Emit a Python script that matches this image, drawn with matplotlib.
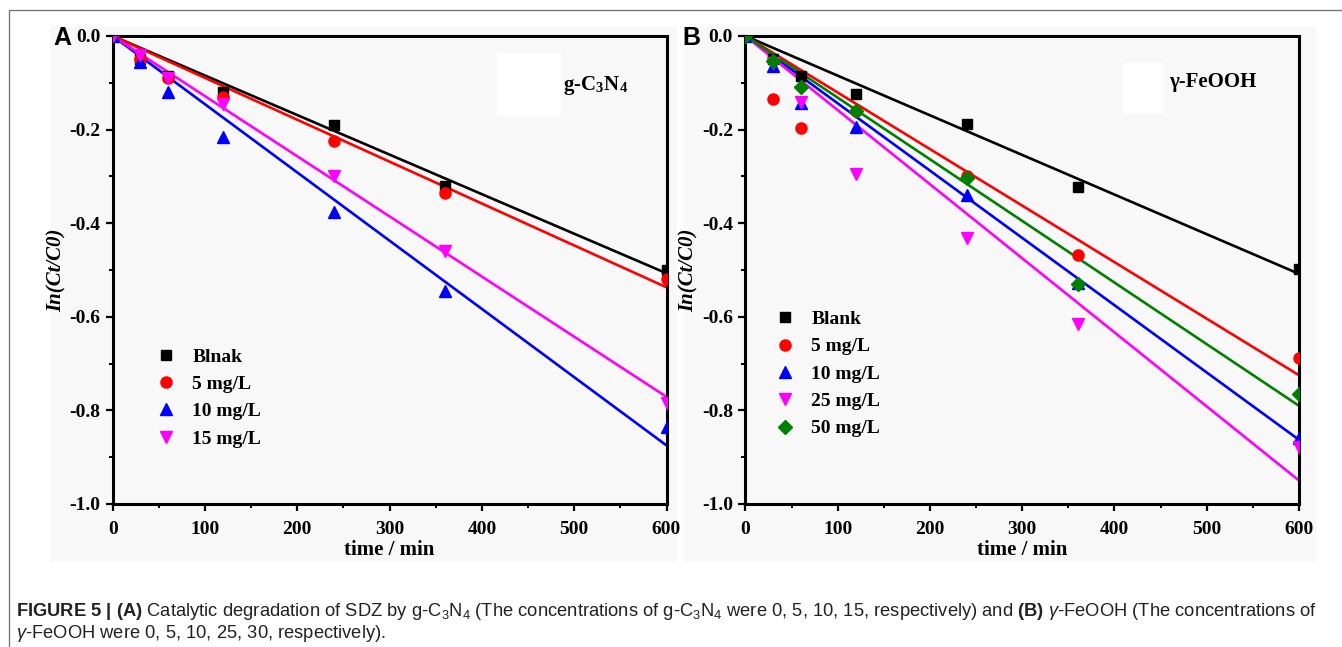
import matplotlib
matplotlib.use("Agg")
import matplotlib.pyplot as plt
import numpy as np
from matplotlib.patches import Rectangle
from matplotlib.ticker import MultipleLocator, FormatStrFormatter

plt.rcParams["mathtext.fontset"] = "custom"
plt.rcParams["mathtext.rm"] = "Liberation Sans"
plt.rcParams["mathtext.bf"] = "Liberation Sans:bold"
plt.rcParams["mathtext.it"] = "Liberation Sans:italic"

# ---- data -------------------------------------------------------------
time_min = [0, 30, 60, 120, 240, 360, 600]

# Panel A: g-C3N4
labels_a = ["Blnak", "5 mg/L", "10 mg/L", "15 mg/L"]
a_blank = [0, -0.050, -0.085, -0.120, -0.190, -0.320, -0.500]
a_5 = [0, -0.050, -0.090, -0.130, -0.225, -0.335, -0.520]
a_10 = [0, -0.055, -0.120, -0.215, -0.375, -0.545, -0.835]
a_15 = [0, -0.040, -0.090, -0.145, -0.300, -0.460, -0.785]
k_a = [0.000845, 0.000895, 0.001458, 0.001285]   # fitted rate constants (min^-1)

# Panel B: gamma-FeOOH
labels_b = ["Blank", "5 mg/L", "10 mg/L", "25 mg/L", "50 mg/L"]
b_blank = [0, -0.050, -0.085, -0.124, -0.189, -0.323, -0.498]
b_5 = [0, -0.135, -0.196, -0.160, -0.300, -0.467, -0.687]
b_10 = [0, -0.065, -0.143, -0.195, -0.340, -0.527, -0.859]
b_25 = [0, -0.057, -0.141, -0.295, -0.431, -0.616, -0.878]
b_50 = [0, -0.053, -0.108, -0.160, -0.303, -0.529, -0.766]
k_b = [0.000847, 0.001208, 0.001438, 0.001583, 0.001317]

colors_a = ["black", "#ff0000", "#0000ff", "#ff00ff"]
markers_a = ["s", "o", "^", "v"]
colors_b = ["black", "#ff0000", "#0000ff", "#ff00ff", "#008000"]
markers_b = ["s", "o", "^", "v", "D"]
msizes_b = [7, 8, 8, 8, 7]

SERIF = "Liberation Serif"

fig = plt.figure(figsize=(13.42, 6.47), dpi=100)
fig.patch.set_facecolor("white")

# thin frame around the figure block
fig.add_artist(Rectangle((9 / 1342, -0.1), 1.2, 1 - 10 / 647 + 0.1,
                         transform=fig.transFigure, fill=False,
                         edgecolor="#777777", linewidth=1.0))
# light grey image panels
for x0, x1 in [(50, 677), (684, 1316)]:
    fig.add_artist(Rectangle((x0 / 1342, 1 - 562 / 647), (x1 - x0) / 1342,
                             (562 - 27) / 647, transform=fig.transFigure,
                             facecolor="#f8f8f8", edgecolor="none", zorder=0))


def style_axes(ax):
    ax.set_facecolor("#f8f8f8")
    ax.set_xlim(0, 600)
    ax.set_ylim(-1.0, 0.0)
    ax.xaxis.set_major_locator(MultipleLocator(100))
    ax.xaxis.set_minor_locator(MultipleLocator(50))
    ax.yaxis.set_major_locator(MultipleLocator(0.2))
    ax.yaxis.set_minor_locator(MultipleLocator(0.1))
    ax.yaxis.set_major_formatter(FormatStrFormatter("%.1f"))
    ax.tick_params(which="major", direction="out", length=5, width=1.6,
                   labelsize=14, pad=4)
    ax.tick_params(axis="x", which="major", pad=7)
    ax.tick_params(which="minor", direction="out", length=3, width=1.4)
    for lab in ax.get_xticklabels() + ax.get_yticklabels():
        lab.set_fontfamily(SERIF)
        lab.set_fontweight("bold")
    for sp in ax.spines.values():
        sp.set_linewidth(2.2)
    ax.set_xlabel("time / min", fontfamily=SERIF, fontweight="bold",
                  fontsize=15, labelpad=2)
    ax.set_ylabel("In(Ct/C0)", fontfamily=SERIF, fontweight="bold",
                  fontstyle="italic", fontsize=15, labelpad=2)


t = np.array(time_min)
tfit = np.array([0, 600])
leg_prop = {"family": SERIF, "weight": "bold", "size": 14}

# ---- panel A ----------------------------------------------------------
axA = fig.add_axes([112.7 / 1342, 1 - 504 / 647, 553.8 / 1342, 468 / 647])
series_a = [a_blank, a_5, a_10, a_15]
for y, k, c, m, lab in zip(series_a, k_a, colors_a, markers_a, labels_a):
    axA.plot(tfit, -k * tfit, color=c, lw=1.9, zorder=2)
    axA.plot(t, y, ls="none", marker=m, color=c, ms=7 if m == "s" else 8,
             label=lab, zorder=3)
style_axes(axA)
axA.legend(loc="upper left", bbox_to_anchor=(0.065, 0.35), frameon=False,
           prop=leg_prop, handletextpad=0.85, labelspacing=0.5,
           handlelength=1.0, borderaxespad=0)
axA.add_patch(Rectangle((0.694, 0.829), 0.116, 0.135, transform=axA.transAxes,
                        facecolor="white", edgecolor="none", zorder=1))
axA.text(0.813, 0.895, r"g-C$_\mathregular{3}$N$_\mathregular{4}$",
         transform=axA.transAxes, fontfamily=SERIF, fontweight="bold",
         fontsize=15, va="center", ha="left", math_fontfamily="stix")
fig.text(62 / 1342, 1 - 38 / 647, "A", fontfamily="Liberation Sans",
         fontweight="bold", fontsize=18, ha="center", va="center")

# ---- panel B ----------------------------------------------------------
axB = fig.add_axes([745.4 / 1342, 1 - 504 / 647, 553.6 / 1342, 468 / 647])
series_b = [b_blank, b_5, b_10, b_25, b_50]
for y, k, c, m, ms, lab in zip(series_b, k_b, colors_b, markers_b, msizes_b,
                                labels_b):
    axB.plot(tfit, -k * tfit, color=c, lw=1.9, zorder=2)
    axB.plot(t, y, ls="none", marker=m, color=c, ms=ms, label=lab, zorder=3)
style_axes(axB)
axB.legend(loc="upper left", bbox_to_anchor=(0.04, 0.43), frameon=False,
           prop=leg_prop, handletextpad=0.85, labelspacing=0.5,
           handlelength=1.0, borderaxespad=0)
axB.add_patch(Rectangle((0.682, 0.833), 0.074, 0.109, transform=axB.transAxes,
                        facecolor="white", edgecolor="none", zorder=1))
axB.text(0.765, 0.902, "\u03b3-FeOOH", transform=axB.transAxes,
         fontfamily=SERIF, fontweight="bold", fontsize=15, va="center",
         ha="left")
fig.text(691 / 1342, 1 - 38 / 647, "B", fontfamily="Liberation Sans",
         fontweight="bold", fontsize=18, ha="center", va="center")

# ---- caption ----------------------------------------------------------
cap1 = (r"$\mathbf{FIGURE\ 5\ |\ (A)}$ Catalytic degradation of SDZ by "
        r"g-C$_3$N$_4$ (The concentrations of g-C$_3$N$_4$ were 0, 5, 10, 15, "
        r"respectively) and $\mathbf{(B)}$ $\gamma$-FeOOH (The concentrations of")
cap2 = r"$\gamma$-FeOOH were 0, 5, 10, 25, 30, respectively)."
fig.text(16 / 1342, 1 - 611 / 647, cap1, fontfamily="Liberation Sans",
         fontsize=13.2, va="center", ha="left", color="#222222")
fig.text(16 / 1342, 1 - 633 / 647, cap2, fontfamily="Liberation Sans",
         fontsize=13.2, va="center", ha="left", color="#222222")

fig.savefig("out.png", dpi=100, facecolor="white")
